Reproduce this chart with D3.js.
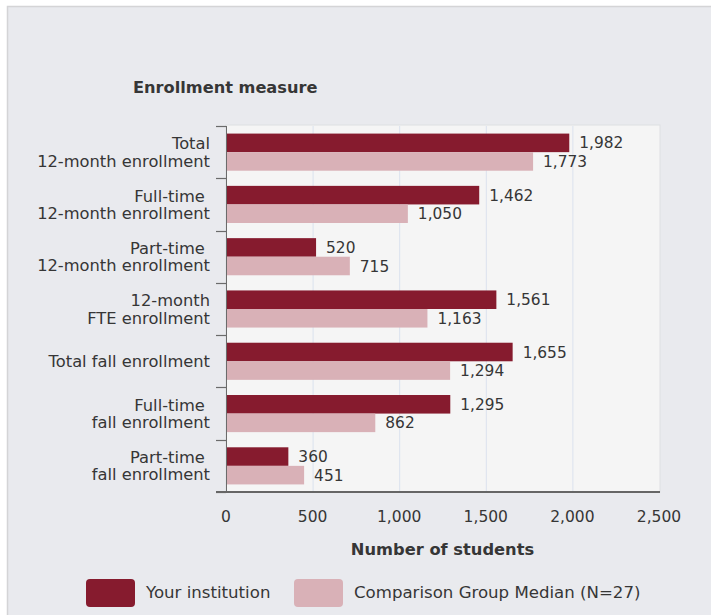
<!DOCTYPE html>
<html>
<head>
<meta charset="utf-8">
<script src="https://cdn.jsdelivr.net/npm/d3@7"></script>
<style>
  html, body { margin: 0; padding: 0; background: #ffffff; }
  svg text { font-family: "DejaVu Sans", sans-serif; fill: #363636; }
</style>
</head>
<body>
<div id="enr-chart"></div>
<script>
// chart data
const enrCategories = [
    ["Total", "12-month enrollment"],
    ["Full-time\u00a0", "12-month enrollment"],
    ["Part-time\u00a0", "12-month enrollment"],
    ["12-month", "FTE enrollment"],
    ["Total fall enrollment"],
    ["Full-time\u00a0", "fall enrollment"],
    ["Part-time\u00a0", "fall enrollment"]
];
const enrYourInstitution = [1982, 1462, 520, 1561, 1655, 1295, 360];
const enrComparisonMedian = [1773, 1050, 715, 1163, 1294, 862, 451];
const enrSeriesNames = ["Your institution", "Comparison Group Median (N=27)"];
const enrSeriesColors = ["#861b2e", "#d9b1b7"];
const enrXTicks = [0, 500, 1000, 1500, 2000, 2500];

const enrWidth = 711;
const enrHeight = 615;
const enrPlot = {left: 226, right: 659, top: 126, bottom: 492};

const svg = d3.select("#enr-chart")
    .append("svg")
        .attr("width", enrWidth)
        .attr("height", enrHeight);

// outer panel
svg.append("rect")
    .attr("x", 7.5)
    .attr("y", 6.5)
    .attr("width", enrWidth + 10)
    .attr("height", enrHeight + 10)
    .attr("fill", "#e9eaee")
    .attr("stroke", "#d4d4d6")
    .attr("stroke-width", 1.5);

// scales
const x = d3.scaleLinear()
    .domain([0, 2500])
    .range([enrPlot.left, enrPlot.right]);

const y0 = d3.scaleBand()
    .domain(enrCategories.map((d, i) => i))
    .range([enrPlot.top, enrPlot.bottom])
    .paddingInner(0.29)
    .paddingOuter(0.145);

const y1 = d3.scaleBand()
    .domain([0, 1])
    .range([0, y0.bandwidth()]);

// plot background
svg.append("rect")
    .attr("x", enrPlot.left)
    .attr("y", enrPlot.top - 1)
    .attr("width", enrPlot.right - enrPlot.left + 1)
    .attr("height", enrPlot.bottom - enrPlot.top + 1)
    .attr("fill", "#f5f5f5")
    .attr("stroke", "#dedfe2")
    .attr("stroke-width", 1);

// vertical grid
svg.append("g")
    .selectAll("line")
    .data(enrXTicks.slice(1, -1))
    .join("line")
        .attr("x1", d => x(d) + 0.5)
        .attr("x2", d => x(d) + 0.5)
        .attr("y1", enrPlot.top)
        .attr("y2", enrPlot.bottom)
        .attr("stroke", "#dbe2ee")
        .attr("stroke-width", 1);

// bars
const enrSeries = [enrYourInstitution, enrComparisonMedian];
enrSeries.forEach((vals, s) => {
    svg.append("g")
        .attr("fill", enrSeriesColors[s])
        .selectAll("rect")
        .data(vals)
        .join("rect")
            .attr("x", x(0) + 1)
            .attr("y", (d, i) => y0(i) + y1(s))
            .attr("width", d => x(d) - x(0) - 1)
            .attr("height", y1.bandwidth());

    // value labels
    svg.append("g")
        .selectAll("text")
        .data(vals)
        .join("text")
            .attr("x", d => x(d) + 10)
            .attr("y", (d, i) => y0(i) + y1(s) + y1.bandwidth() / 2)
            .attr("dy", "0.36em")
            .attr("font-size", 15.4)
            .text(d => d3.format(",")(d));
});

// left axis line + category ticks
const enrBounds = d3.range(enrCategories.length + 1).map(i => enrPlot.top + i * y0.step());
svg.append("line")
    .attr("x1", x(0) + 0.5)
    .attr("x2", x(0) + 0.5)
    .attr("y1", enrPlot.top)
    .attr("y2", enrPlot.bottom)
    .attr("stroke", "#6b6b6b")
    .attr("stroke-width", 1);
svg.append("g")
    .selectAll("line")
    .data(enrBounds)
    .join("line")
        .attr("x1", x(0) - 10)
        .attr("x2", x(0))
        .attr("y1", d => Math.round(d) + 0.5)
        .attr("y2", d => Math.round(d) + 0.5)
        .attr("stroke", "#6b6b6b")
        .attr("stroke-width", 1.2);

// bottom axis line
svg.append("line")
    .attr("x1", x(0) - 10)
    .attr("x2", enrPlot.right + 1)
    .attr("y1", enrPlot.bottom)
    .attr("y2", enrPlot.bottom)
    .attr("stroke", "#666666")
    .attr("stroke-width", 1.8);

// category labels
const enrCatLabels = svg.append("g")
    .selectAll("text")
    .data(enrCategories)
    .join("text")
        .attr("text-anchor", "end")
        .attr("font-size", 16.3)
        .attr("y", (d, i) => y0(i) + y0.bandwidth() / 2);
enrCatLabels.each(function(lines) {
    const t = d3.select(this);
    lines.forEach((ln, k) => {
        t.append("tspan")
            .attr("x", 210)
            .attr("dy", k === 0 ? (0.36 - (lines.length - 1) * 0.53) + "em" : "1.06em")
            .style("white-space", "pre")
            .text(ln);
    });
});

// x tick labels
svg.append("g")
    .selectAll("text")
    .data(enrXTicks)
    .join("text")
        .attr("x", d => x(d))
        .attr("y", 516)
        .attr("dy", "0.36em")
        .attr("text-anchor", "middle")
        .attr("font-size", 15.5)
        .text(d => d3.format(",")(d));

// axis titles
svg.append("text")
    .attr("x", 133)
    .attr("y", 87)
    .attr("dy", "0.36em")
    .attr("font-size", 16.2)
    .attr("font-weight", "bold")
    .text("Enrollment measure");

svg.append("text")
    .attr("x", (enrPlot.left + enrPlot.right) / 2)
    .attr("y", 549)
    .attr("dy", "0.36em")
    .attr("text-anchor", "middle")
    .attr("font-size", 16.3)
    .attr("font-weight", "bold")
    .text("Number of students");

// legend
const enrLegendX = [86, 294];
enrSeriesNames.forEach((name, s) => {
    svg.append("rect")
        .attr("x", enrLegendX[s])
        .attr("y", 579)
        .attr("width", 49)
        .attr("height", 28)
        .attr("rx", 4)
        .attr("fill", enrSeriesColors[s]);
    svg.append("text")
        .attr("x", enrLegendX[s] + 60)
        .attr("y", 592)
        .attr("dy", "0.36em")
        .attr("font-size", 16.6)
        .text(name);
});
</script>
</body>
</html>
